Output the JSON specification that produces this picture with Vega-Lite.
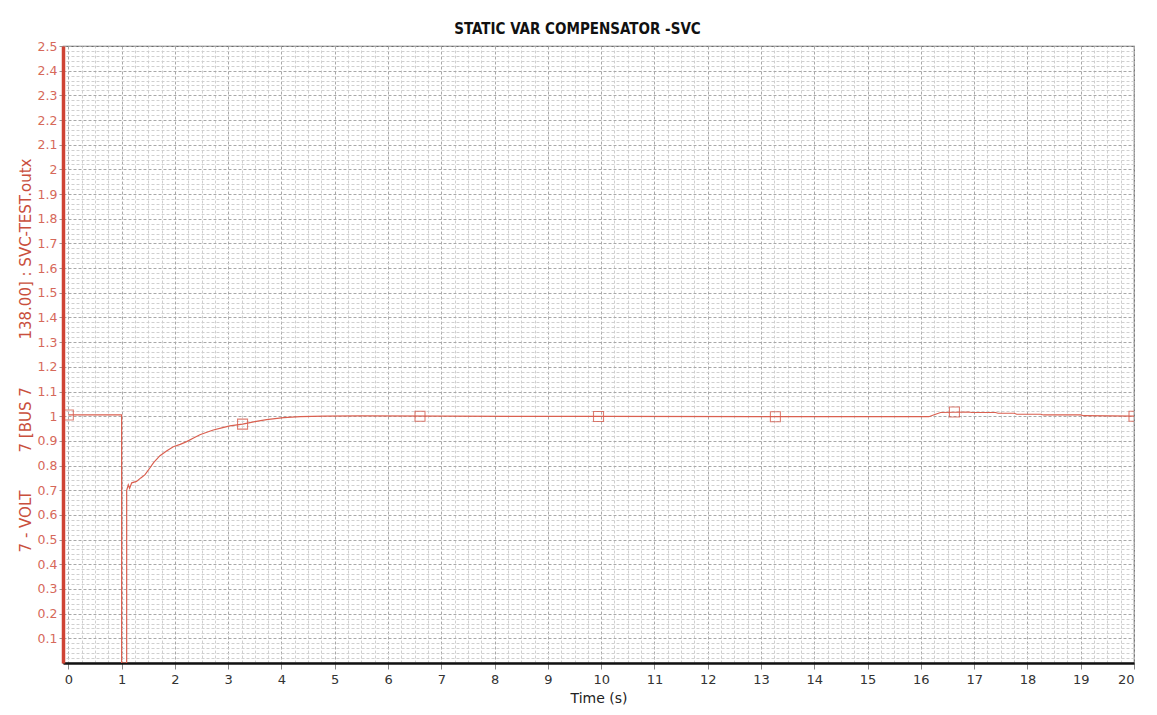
{
  "$schema": "https://vega.github.io/schema/vega-lite/v6.json",
  "width": 1071,
  "height": 617,
  "autosize": {"type": "none"},
  "padding": {"left": 63, "top": 46, "right": 23, "bottom": 52},
  "background": "white",
  "title": {
    "text": "STATIC VAR COMPENSATOR -SVC",
    "font": "DejaVu Sans Condensed",
    "fontSize": 15,
    "fontWeight": "bold",
    "color": "#111111",
    "anchor": "middle",
    "dx": -21,
    "offset": 3
  },
  "config": {
    "view": {"stroke": "#6a6a6a", "strokeWidth": 1.2},
    "axis": {"labelFont": "DejaVu Sans", "titleFont": "DejaVu Sans"}
  },
  "datasets": {
    "line": [
      {"t": 0, "v": 1.005},
      {"t": 1.0, "v": 1.005},
      {"t": 1.0, "v": 0},
      {"t": 1.095, "v": 0},
      {"t": 1.095, "v": 0.7},
      {"t": 1.125, "v": 0.722},
      {"t": 1.15, "v": 0.708},
      {"t": 1.19, "v": 0.73},
      {"t": 1.28, "v": 0.736},
      {"t": 1.36, "v": 0.75},
      {"t": 1.44, "v": 0.763},
      {"t": 1.52, "v": 0.787},
      {"t": 1.6, "v": 0.812},
      {"t": 1.72, "v": 0.84},
      {"t": 1.85, "v": 0.86},
      {"t": 1.97, "v": 0.876},
      {"t": 2.1, "v": 0.886},
      {"t": 2.22, "v": 0.897},
      {"t": 2.35, "v": 0.912},
      {"t": 2.47, "v": 0.925},
      {"t": 2.6, "v": 0.935},
      {"t": 2.72, "v": 0.944},
      {"t": 2.88, "v": 0.953},
      {"t": 3.03, "v": 0.961},
      {"t": 3.27, "v": 0.968},
      {"t": 3.5, "v": 0.978},
      {"t": 3.72, "v": 0.986},
      {"t": 4.04, "v": 0.994},
      {"t": 4.35, "v": 0.998},
      {"t": 4.8, "v": 1.0},
      {"t": 5.5, "v": 1.001},
      {"t": 7.0, "v": 1.0},
      {"t": 10.0, "v": 0.999},
      {"t": 13.0, "v": 0.998},
      {"t": 16.15, "v": 0.998},
      {"t": 16.25, "v": 1.006},
      {"t": 16.37, "v": 1.015},
      {"t": 16.9, "v": 1.017},
      {"t": 16.95, "v": 1.015},
      {"t": 17.4, "v": 1.015},
      {"t": 17.45, "v": 1.012},
      {"t": 17.75, "v": 1.012},
      {"t": 17.8, "v": 1.008},
      {"t": 18.25, "v": 1.008},
      {"t": 18.3, "v": 1.005},
      {"t": 19.0, "v": 1.005},
      {"t": 19.05, "v": 1.002},
      {"t": 20.0, "v": 1.0}
    ],
    "markers": [
      {"t": 0, "v": 1.005},
      {"t": 3.27, "v": 0.968},
      {"t": 6.6, "v": 1.0},
      {"t": 9.95, "v": 0.999},
      {"t": 13.27, "v": 0.998},
      {"t": 16.63, "v": 1.017},
      {"t": 20.0, "v": 1.0}
    ]
  },
  "resolve": {"axis": {"x": "independent", "y": "independent"}},
  "layer": [
    {
      "data": {"name": "markers"},
      "mark": {"type": "point", "shape": "square", "filled": false, "stroke": "#d24a3a", "strokeWidth": 1.1, "size": 100, "clip": true},
      "encoding": {
        "x": {
          "field": "t", "type": "quantitative",
          "scale": {"domain": [-0.1, 20], "nice": false, "zero": false},
          "axis": {
            "orient": "top", "title": null, "labels": false, "ticks": false, "domain": false,
            "grid": true, "gridColor": "#d0d0d0", "gridDash": [3, 2], "gridWidth": 1,
            "values": [0.25,0.5,0.75,1.25,1.5,1.75,2.25,2.5,2.75,3.25,3.5,3.75,4.25,4.5,4.75,5.25,5.5,5.75,6.25,6.5,6.75,7.25,7.5,7.75,8.25,8.5,8.75,9.25,9.5,9.75,10.25,10.5,10.75,11.25,11.5,11.75,12.25,12.5,12.75,13.25,13.5,13.75,14.25,14.5,14.75,15.25,15.5,15.75,16.25,16.5,16.75,17.25,17.5,17.75,18.25,18.5,18.75,19.25,19.5,19.75]
          }
        },
        "y": {
          "field": "v", "type": "quantitative",
          "scale": {"domain": [0, 2.5], "nice": false, "zero": false},
          "axis": {
            "orient": "right", "title": null, "labels": false, "ticks": false, "domain": false,
            "grid": true, "gridColor": "#d0d0d0", "gridDash": [3, 2], "gridWidth": 1,
            "values": [0.02,0.04,0.06,0.08,0.12,0.14,0.16,0.18,0.22,0.24,0.26,0.28,0.32,0.34,0.36,0.38,0.42,0.44,0.46,0.48,0.52,0.54,0.56,0.58,0.62,0.64,0.66,0.68,0.72,0.74,0.76,0.78,0.82,0.84,0.86,0.88,0.92,0.94,0.96,0.98,1.02,1.04,1.06,1.08,1.12,1.14,1.16,1.18,1.22,1.24,1.26,1.28,1.32,1.34,1.36,1.38,1.42,1.44,1.46,1.48,1.52,1.54,1.56,1.58,1.62,1.64,1.66,1.68,1.72,1.74,1.76,1.78,1.82,1.84,1.86,1.88,1.92,1.94,1.96,1.98,2.02,2.04,2.06,2.08,2.12,2.14,2.16,2.18,2.22,2.24,2.26,2.28,2.32,2.34,2.36,2.38,2.42,2.44,2.46,2.48]
          }
        }
      }
    },
    {
      "data": {"name": "line"},
      "mark": {"type": "line", "stroke": "#da6050", "strokeWidth": 1.2, "interpolate": "linear", "clip": true},
      "encoding": {
        "x": {
          "field": "t", "type": "quantitative", "sort": null,
          "scale": {"domain": [-0.1, 20], "nice": false, "zero": false},
          "axis": {
            "orient": "bottom", "title": "Time (s)", "titleFontSize": 14, "titleFontWeight": "normal", "titleColor": "#222222", "titlePadding": 5,
            "values": [0,1,2,3,4,5,6,7,8,9,10,11,12,13,14,15,16,17,18,19,20], "format": "d",
            "labelFontSize": 13, "labelColor": "#333333", "labelPadding": 4,
            "ticks": true, "tickColor": "#888888", "tickSize": 6, "tickWidth": 1,
            "domain": true, "domainColor": "#111111", "domainWidth": 2.5,
            "grid": true, "gridColor": "#a8a8a8", "gridDash": [3, 2], "gridWidth": 1
          }
        },
        "y": {
          "field": "v", "type": "quantitative",
          "scale": {"domain": [0, 2.5], "nice": false, "zero": false},
          "axis": {
            "orient": "left",
            "title": "7\u00a0-\u00a0VOLT\u00a0\u00a0\u00a0\u00a0\u00a0\u00a0\u00a0\u00a07\u00a0[BUS\u00a07\u00a0\u00a0\u00a0\u00a0\u00a0\u00a0\u00a0\u00a0\u00a0\u00a0138.00]\u00a0:\u00a0SVC-TEST.outx",
            "titleFontSize": 15, "titleFontWeight": "normal", "titleColor": "#c94f3d",
            "titleX": -38, "titleY": 309, "titleAngle": -90, "titleAlign": "center", "titleBaseline": "middle",
            "values": [0.1,0.2,0.3,0.4,0.5,0.6,0.7,0.8,0.9,1,1.1,1.2,1.3,1.4,1.5,1.6,1.7,1.8,1.9,2,2.1,2.2,2.3,2.4,2.5],
            "format": ".1~f",
            "labelFontSize": 12.5, "labelColor": "#d6685a", "labelPadding": 2,
            "ticks": true, "tickColor": "#999999", "tickSize": 4,
            "domain": true, "domainColor": "#cf4334", "domainWidth": 3.5,
            "grid": true, "gridColor": "#a8a8a8", "gridDash": [3, 2], "gridWidth": 1
          }
        }
      }
    }
  ]
}
